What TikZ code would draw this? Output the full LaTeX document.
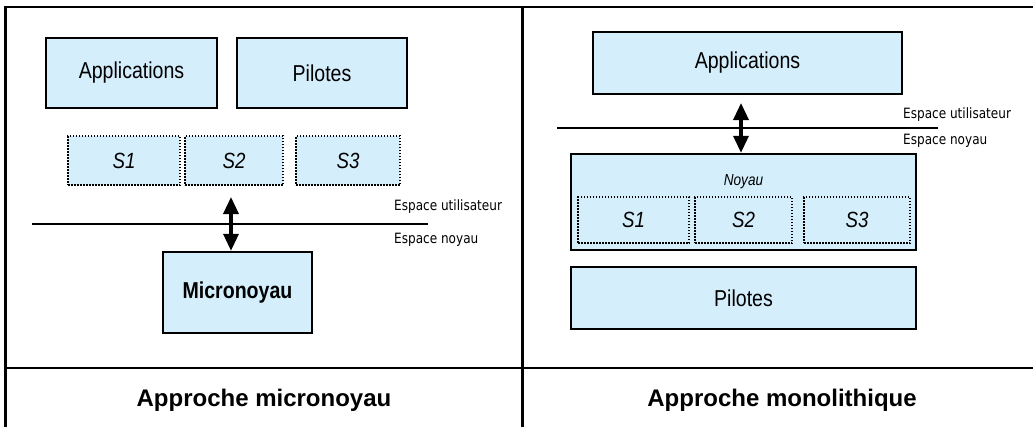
\documentclass[tikz,border=0pt]{standalone}
\usepackage{fontspec}
\setmainfont{Liberation Sans}
\newfontfamily\boxfont{Liberation Sans}[FakeStretch=0.85]
\newfontfamily\zonefont{DejaVu Sans}[FakeStretch=0.85]
\usetikzlibrary{arrows.meta}
\definecolor{boxblue}{RGB}{212,238,252}

\begin{document}
\begin{tikzpicture}[x=1bp,y=-1bp,
  block/.style={draw=black, line width=2.4bp, fill=boxblue, inner sep=0pt,
    font=\boxfont\fontsize{23bp}{27bp}\selectfont},
  service/.style={draw=black, line width=1.8bp, dash pattern=on 1.5bp off 1.5bp,
    fill=boxblue, inner sep=0pt, minimum height=#1,
    font=\boxfont\itshape\fontsize{22bp}{26bp}\selectfont},
  zone/.style={anchor=west, inner sep=0pt, font=\zonefont\fontsize{14.2bp}{16bp}\selectfont},
  title/.style={inner sep=0pt, font=\bfseries\fontsize{24bp}{28bp}\selectfont},
  frame/.style={line width=2.6bp},
  sepline/.style={line width=2.4bp},
  duplex/.style={line width=3.4bp,
    {Triangle[width=15bp,length=17bp]}-{Triangle[width=15bp,length=17bp]}}
]
\useasboundingbox (0,0) rectangle (1033,427);

% table rules
\draw[frame] (4,7) -- (1033,7);
\draw[frame] (4,368) -- (1033,368);
\draw[frame] (5.5,6) -- (5.5,427);
\draw[frame] (522.5,6) -- (522.5,427);

% ---- micro-kernel approach ----
\node[block, minimum width=171bp, minimum height=70bp] (appL) at (131.5,73) {Applications};
\node[block, minimum width=170bp, minimum height=70bp] (pilL) at (322,73) {Pilotes};
\node[service=49bp, minimum width=112bp] (s1L) at (124,160.5) {S1};
\node[service=49bp, minimum width=98bp] (s2L) at (234,160.5) {S2};
\node[service=49bp, minimum width=104bp] (s3L) at (348,160.5) {S3};
\node[block, minimum width=149bp, minimum height=81bp, font=\boxfont\bfseries\fontsize{23bp}{27bp}\selectfont] (micro) at (237.5,292.5) {Micronoyau};

\coordinate (sepL1) at (32,224);
\coordinate (sepL2) at (428,224);
\draw[sepline] (sepL1) -- (sepL2);
\node[zone] (userL) at (394,207) {Espace utilisateur};
\node[zone] (kernL) at (394,240) {Espace noyau};

\coordinate (callL) at (231,197);
\draw[duplex] (callL) -- (callL |- micro.north);

\node[title] (titleL) at (264,400) {Approche micronoyau};

% ---- monolithic approach ----
\node[block, minimum width=309bp, minimum height=62bp] (appR) at (747.5,63) {Applications};
\node[block, minimum width=345bp, minimum height=96bp] (noyau) at (743.5,202) {};
\node[inner sep=0pt, font=\boxfont\itshape\fontsize{16bp}{19bp}\selectfont] (noyauLbl) at (743.5,182) {Noyau};
\node[service=46bp, minimum width=111bp] (s1R) at (633.5,220) {S1};
\node[service=46bp, minimum width=97bp] (s2R) at (743.5,220) {S2};
\node[service=46bp, minimum width=106bp] (s3R) at (857,220) {S3};
\node[block, minimum width=345bp, minimum height=62bp] (pilR) at (743.5,298) {Pilotes};

\coordinate (sepR1) at (557,128);
\coordinate (sepR2) at (938,128);
\draw[sepline] (sepR1) -- (sepR2);
\node[zone] (userR) at (903,115) {Espace utilisateur};
\node[zone] (kernR) at (903,141) {Espace noyau};

\coordinate (callR) at (741,103);
\draw[duplex] (callR) -- (callR |- noyau.north);

\node[title] (titleR) at (782,400) {Approche monolithique};
\end{tikzpicture}
\end{document}
